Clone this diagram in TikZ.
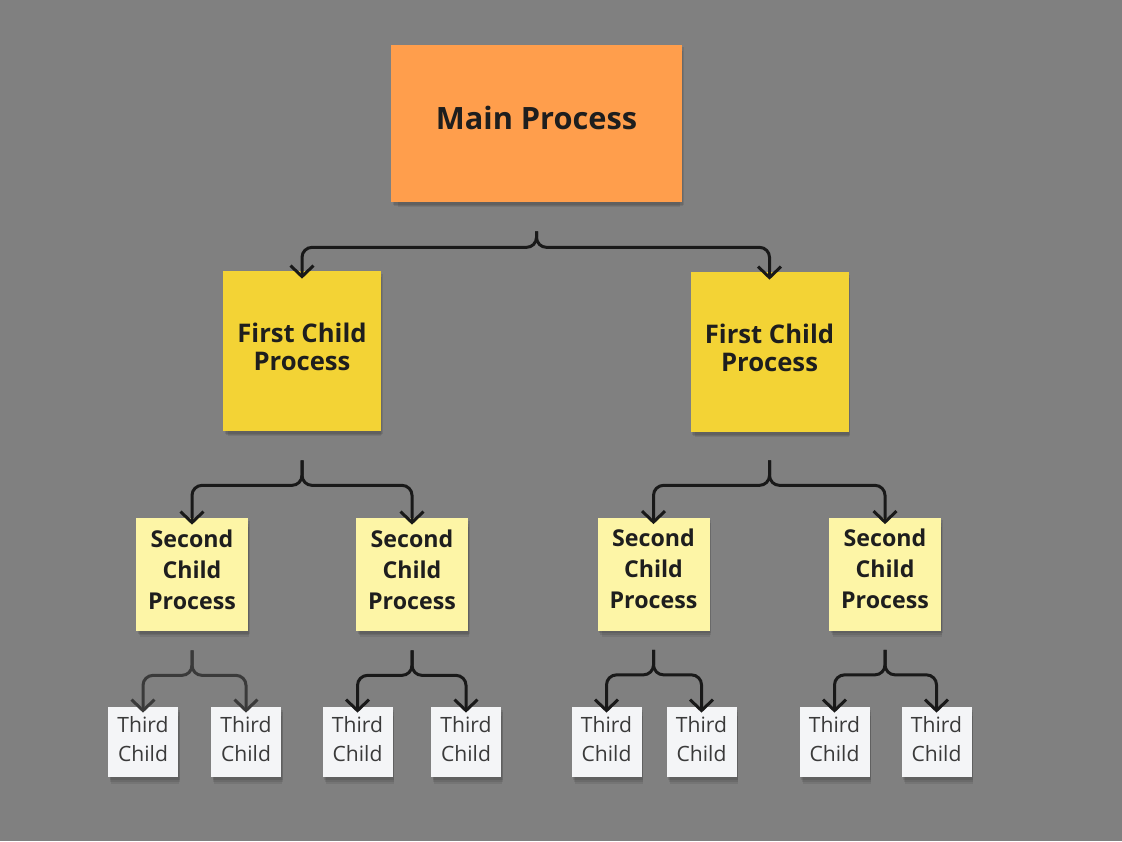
\documentclass[tikz,border=0pt]{standalone}
\usepackage{fontspec}
\setmainfont{Open Sans}
\usetikzlibrary{arrows.meta, shadows}

\definecolor{canvas}{HTML}{808080}
\definecolor{mainorange}{HTML}{FF9E4C}
\definecolor{firstyellow}{HTML}{F3D335}
\definecolor{secondyellow}{HTML}{FDF5A6}
\definecolor{thirdwhite}{HTML}{F4F5F7}
\definecolor{inkdark}{HTML}{1E1E1E}
\definecolor{inkgray}{HTML}{3A3A3A}

\begin{document}
\begin{tikzpicture}[x=0.2mm, y=-0.2mm, >={Straight Barb[length=2.2mm,width=4.6mm]},
  softshadow/.style={
    general shadow={shadow xshift=0.3mm, shadow yshift=-0.5mm, opacity=0.09, fill=black},
    general shadow={shadow xshift=0.4mm, shadow yshift=-1.0mm, shadow scale=0.99, opacity=0.09, fill=black},
    general shadow={shadow xshift=0.5mm, shadow yshift=-1.6mm, shadow scale=0.97, opacity=0.08, fill=black}},
  note/.style={inner sep=0pt, align=center, text=inkdark, softshadow,
    execute at end node={\rule[-#1]{0pt}{#1}}},
  mainnote/.style={note=2.4mm, fill=mainorange, minimum width=58.2mm, minimum height=31.4mm,
    font=\bfseries\fontsize{17.5}{21}\selectfont},
  firstnote/.style={note=1.6mm, fill=firstyellow, minimum width=31.6mm, minimum height=32mm,
    font=\bfseries\fontsize{14.6}{16}\selectfont},
  secondnote/.style={note=2mm, fill=secondyellow, minimum width=22.4mm, minimum height=22.6mm,
    font=\bfseries\fontsize{13.2}{17.6}\selectfont},
  thirdnote/.style={note=1.2mm, fill=thirdwhite, minimum width=14mm, minimum height=14mm,
    text=inkgray, font=\fontsize{12}{16.4}\selectfont},
  link/.style={->, line width=0.6mm, rounded corners=2mm, draw=black!90}]
  \fill[canvas] (0,0) rectangle (1122,841);
  \useasboundingbox (0,0) rectangle (1122,841);

  % notes
  \node[mainnote] (main) at (536.5,123.5) {Main Process};
  \node[firstnote] (firstL) at (302,351) {First Child\\Process};
  \node[firstnote] (firstR) at (769.5,352) {First Child\\Process};
  \node[secondnote] (secA) at (192,574.5) {Second\\Child\\Process};
  \node[secondnote] (secB) at (412,574.5) {Second\\Child\\Process};
  \node[secondnote] (secC) at (653.5,574) {Second\\Child\\Process};
  \node[secondnote] (secD) at (885,574) {Second\\Child\\Process};
  \node[thirdnote] (thirdA1) at (143,742) {Third\\Child};
  \node[thirdnote] (thirdA2) at (246,742) {Third\\Child};
  \node[thirdnote] (thirdB1) at (357.5,742) {Third\\Child};
  \node[thirdnote] (thirdB2) at (466,742) {Third\\Child};
  \node[thirdnote] (thirdC1) at (606.5,742) {Third\\Child};
  \node[thirdnote] (thirdC2) at (701.5,742) {Third\\Child};
  \node[thirdnote] (thirdD1) at (834.5,742) {Third\\Child};
  \node[thirdnote] (thirdD2) at (936.5,742) {Third\\Child};

  % main -> first children
  \draw[link] ([yshift=-5.8mm]main.south) -- ++(0,-3.2mm) -| ([yshift=-1.6mm]firstL.north);
  \draw[link] ([yshift=-5.8mm]main.south) -- ++(0,-3.2mm) -| ([yshift=-1.6mm]firstR.north);

  % first -> second children
  \draw[link] ([yshift=-5.8mm]firstL.south) -- ++(0,-5mm) -| ([yshift=-1.4mm]secA.north);
  \draw[link] ([yshift=-5.8mm]firstL.south) -- ++(0,-5mm) -| ([yshift=-1.4mm]secB.north);
  \draw[link] ([yshift=-5.6mm]firstR.south) -- ++(0,-5mm) -| ([yshift=-1.4mm]secC.north);
  \draw[link] ([yshift=-5.6mm]firstR.south) -- ++(0,-5mm) -| ([yshift=-1.4mm]secD.north);

  % second -> third children
  \draw[link, draw=inkgray] ([yshift=-3.8mm]secA.south) -- ++(0,-5mm) -| ([yshift=-1.2mm]thirdA1.north);
  \draw[link, draw=inkgray] ([yshift=-3.8mm]secA.south) -- ++(0,-5mm) -| ([yshift=-1.2mm]thirdA2.north);
  \draw[link] ([yshift=-3.8mm]secB.south) -- ++(0,-5mm) -| ([yshift=-1.2mm]thirdB1.north);
  \draw[link] ([yshift=-3.8mm]secB.south) -- ++(0,-5mm) -| ([yshift=-1.2mm]thirdB2.north);
  \draw[link] ([yshift=-3.8mm]secC.south) -- ++(0,-5mm) -| ([yshift=-1.2mm]thirdC1.north);
  \draw[link] ([yshift=-3.8mm]secC.south) -- ++(0,-5mm) -| ([yshift=-1.2mm]thirdC2.north);
  \draw[link] ([yshift=-3.8mm]secD.south) -- ++(0,-5mm) -| ([yshift=-1.2mm]thirdD1.north);
  \draw[link] ([yshift=-3.8mm]secD.south) -- ++(0,-5mm) -| ([yshift=-1.2mm]thirdD2.north);
\end{tikzpicture}
\end{document}
